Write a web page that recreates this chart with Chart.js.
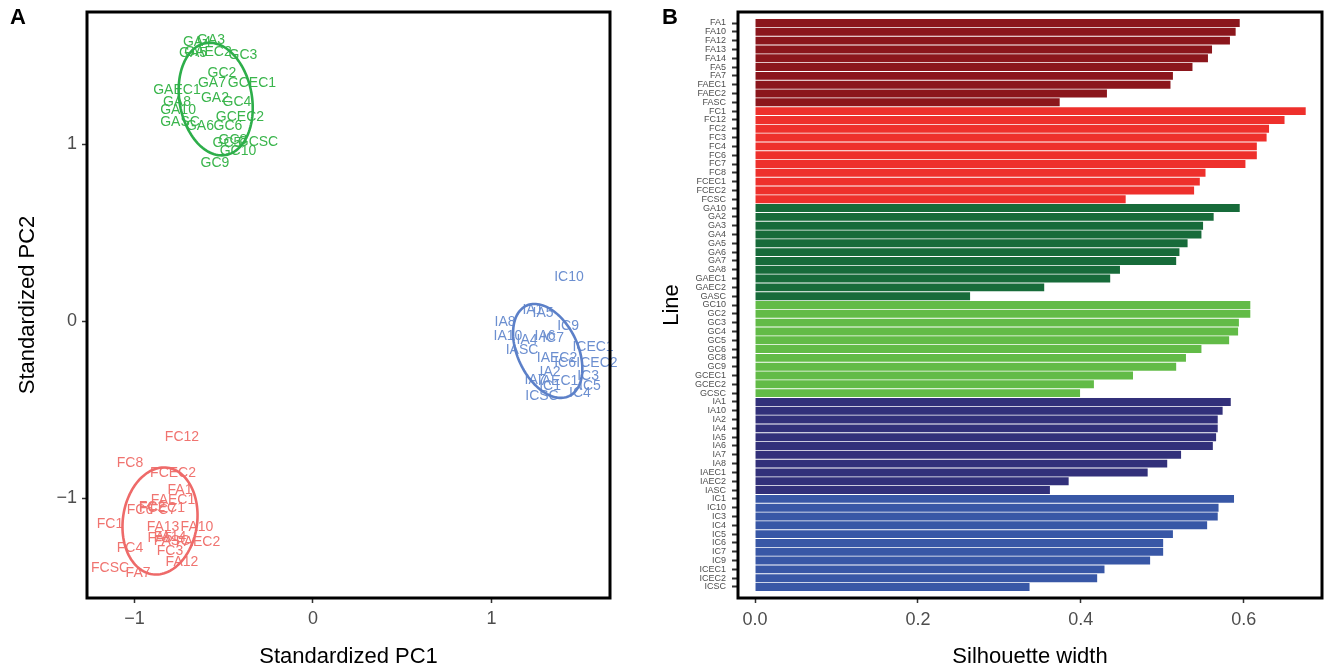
<!DOCTYPE html>
<html>
  <head>
    <title>PCA and silhouette widths</title>
    <script src="https://cdn.jsdelivr.net/npm/chart.js@4.4.1/dist/chart.umd.min.js"></script>
    <style>
      body { margin: 0; background: #fff; }
      .panel { position: absolute; top: 0; }
    </style>
  </head>

  <body>
    <div class="panel" style="left: 0px"><canvas id="pca" width="640" height="671"></canvas></div>
    <div class="panel" style="left: 640px"><canvas id="sil" width="685" height="671"></canvas></div>
    <script>
      // panel A: label positions on the standardized PCs
      const greenNames = ['GA3', 'GA4', 'GA5', 'GAEC2', 'GC3', 'GC2', 'GA7', 'GCEC1', 'GAEC1', 'GA2', 'GC4', 'GA8', 'GA10', 'GCEC2', 'GASC', 'GA6', 'GC6', 'GC8', 'GC5', 'GCSC', 'GC10', 'GC9'];
      const greenPC1 = [-0.571, -0.650, -0.672, -0.588, -0.392, -0.510, -0.566, -0.342, -0.762, -0.549, -0.426, -0.762, -0.756, -0.409, -0.745, -0.633, -0.476, -0.448, -0.482, -0.308, -0.420, -0.549];
      const greenPC2 = [1.588, 1.576, 1.514, 1.520, 1.503, 1.401, 1.345, 1.345, 1.305, 1.260, 1.237, 1.237, 1.192, 1.153, 1.124, 1.102, 1.102, 1.023, 1.006, 1.011, 0.960, 0.893];

      const blueNames = ['IC10', 'IA1', 'IA5', 'IA8', 'IC9', 'IA10', 'IA6', 'IC7', 'IA4', 'IASC', 'ICEC1', 'IAEC2', 'IC6', 'ICEC2', 'IA2', 'IC3', 'IA7', 'IAEC1', 'IC1', 'IC5', 'IC4', 'ICSC'];
      const bluePC1 = [1.434, 1.232, 1.289, 1.076, 1.429, 1.092, 1.300, 1.345, 1.199, 1.171, 1.569, 1.367, 1.412, 1.591, 1.328, 1.541, 1.244, 1.373, 1.328, 1.552, 1.496, 1.283];
      const bluePC2 = [0.249, 0.062, 0.045, -0.006, -0.028, -0.085, -0.085, -0.096, -0.107, -0.164, -0.147, -0.209, -0.237, -0.237, -0.288, -0.311, -0.333, -0.339, -0.367, -0.367, -0.407, -0.424];

      const redNames = ['FC12', 'FC8', 'FCEC2', 'FA1', 'FAEC1', 'FC2', 'FC6', 'FCEC1', 'FC7', 'FC1', 'FA13', 'FA10', 'FA14', 'FA5', 'FASC', 'FAEC2', 'FC4', 'FC3', 'FA12', 'FCSC', 'FA7'];
      const redPC1 = [-0.734, -1.025, -0.784, -0.745, -0.784, -0.902, -0.969, -0.846, -0.840, -1.137, -0.840, -0.650, -0.801, -0.857, -0.790, -0.644, -1.025, -0.801, -0.734, -1.137, -0.980];
      const redPC2 = [-0.655, -0.802, -0.859, -0.955, -1.011, -1.051, -1.068, -1.056, -1.068, -1.147, -1.164, -1.164, -1.220, -1.226, -1.243, -1.249, -1.282, -1.299, -1.362, -1.395, -1.424];

      // cluster ellipses (green, blue, red): centre, semi axes, tilt of major axis in degrees
      const ellipseCx = [-0.545, 1.315, -0.857];
      const ellipseCy = [1.254, -0.169, -1.130];
      const ellipseA = [0.321, 0.282, 0.304];
      const ellipseB = [0.203, 0.169, 0.208];
      const ellipseTilt = [100, 115, 82];

      const pcTicks = [-1, 0, 1];

      // panel B: silhouette width per line
      const faLines = ['FA1', 'FA10', 'FA12', 'FA13', 'FA14', 'FA5', 'FA7', 'FAEC1', 'FAEC2', 'FASC'];
      const faWidth = [0.595, 0.590, 0.583, 0.561, 0.556, 0.537, 0.513, 0.510, 0.432, 0.374];
      const fcLines = ['FC1', 'FC12', 'FC2', 'FC3', 'FC4', 'FC6', 'FC7', 'FC8', 'FCEC1', 'FCEC2', 'FCSC'];
      const fcWidth = [0.676, 0.650, 0.631, 0.628, 0.616, 0.616, 0.602, 0.553, 0.546, 0.539, 0.455];
      const gaLines = ['GA10', 'GA2', 'GA3', 'GA4', 'GA5', 'GA6', 'GA7', 'GA8', 'GAEC1', 'GAEC2', 'GASC'];
      const gaWidth = [0.595, 0.563, 0.550, 0.548, 0.531, 0.521, 0.517, 0.448, 0.436, 0.355, 0.264];
      const gcLines = ['GC10', 'GC2', 'GC3', 'GC4', 'GC5', 'GC6', 'GC8', 'GC9', 'GCEC1', 'GCEC2', 'GCSC'];
      const gcWidth = [0.608, 0.608, 0.594, 0.593, 0.582, 0.548, 0.529, 0.517, 0.464, 0.416, 0.399];
      const iaLines = ['IA1', 'IA10', 'IA2', 'IA4', 'IA5', 'IA6', 'IA7', 'IA8', 'IAEC1', 'IAEC2', 'IASC'];
      const iaWidth = [0.584, 0.574, 0.568, 0.568, 0.566, 0.562, 0.523, 0.506, 0.482, 0.385, 0.362];
      const icLines = ['IC1', 'IC10', 'IC3', 'IC4', 'IC5', 'IC6', 'IC7', 'IC9', 'ICEC1', 'ICEC2', 'ICSC'];
      const icWidth = [0.588, 0.569, 0.568, 0.555, 0.513, 0.501, 0.501, 0.485, 0.429, 0.420, 0.337];

      const silTicks = [0, 0.2, 0.4, 0.6];

      const FONT = '"Liberation Sans", Arial, Helvetica, sans-serif';
      const TICK_GREY = '#4D4D4D';

      const groupColors = {
        FA: '#8B161C', FC: '#EE302C', GA: '#176B3A',
        GC: '#62BB47', IA: '#32307A', IC: '#3857A6',
      };
      const ellipseColors = ['#2DAE4A', '#5C80C8', '#EE6A69'];

      function framePlugin(tag, tagX) {
        return {
          id: 'frame' + tag,
          afterDraw(chart) {
            const { ctx, chartArea: a } = chart;
            ctx.save();
            ctx.strokeStyle = '#000';
            ctx.lineWidth = 3;
            ctx.strokeRect(a.left, a.top, a.right - a.left, a.bottom - a.top);
            ctx.fillStyle = '#000';
            ctx.font = 'bold 22px ' + FONT;
            ctx.textBaseline = 'top';
            ctx.textAlign = 'left';
            ctx.fillText(tag, tagX, 7);
            ctx.restore();
          },
        };
      }

      const textLabels = {
        id: 'textLabels',
        afterDatasetsDraw(chart) {
          const ctx = chart.ctx;
          ctx.save();
          ctx.font = '14px ' + FONT;
          ctx.textAlign = 'center';
          ctx.textBaseline = 'middle';
          chart.data.datasets.forEach((ds, i) => {
            const meta = chart.getDatasetMeta(i);
            ctx.fillStyle = ds.textColor;
            meta.data.forEach((pt, j) => ctx.fillText(ds.names[j], pt.x, pt.y));
          });
          // ellipses
          const xs = chart.scales.x, ys = chart.scales.y;
          ctx.lineWidth = 2.6;
          ellipseCx.forEach((cx, k) => {
            const th = ellipseTilt[k] * Math.PI / 180;
            ctx.strokeStyle = ellipseColors[k];
            ctx.beginPath();
            for (let s = 0; s <= 120; s++) {
              const t = (s / 120) * 2 * Math.PI;
              const u = ellipseA[k] * Math.cos(t), v = ellipseB[k] * Math.sin(t);
              const dx = cx + u * Math.cos(th) - v * Math.sin(th);
              const dy = ellipseCy[k] + u * Math.sin(th) + v * Math.cos(th);
              const px = xs.getPixelForValue(dx), py = ys.getPixelForValue(dy);
              if (s === 0) ctx.moveTo(px, py); else ctx.lineTo(px, py);
            }
            ctx.closePath();
            ctx.stroke();
          });
          ctx.restore();
        },
      };

      const toPoints = (xs, ys) => xs.map((x, i) => ({ x: x, y: ys[i] }));
      const minus = (v) => (v < 0 ? '\u2212' + Math.abs(v) : '' + v);
      const noPad = (s) => { s.paddingTop = 0; s.paddingBottom = 0; s.paddingLeft = 0; s.paddingRight = 0; };

      const gridOpts = (len, w) => ({
        drawOnChartArea: false, drawTicks: true, offset: false,
        tickLength: len, tickColor: '#333', tickWidth: w,
      });

      new Chart(document.getElementById('pca'), {
        type: 'scatter',
        data: {
          datasets: [
            { names: greenNames, textColor: '#3AB54C', data: toPoints(greenPC1, greenPC2), pointRadius: 0 },
            { names: blueNames, textColor: '#6C8FD0', data: toPoints(bluePC1, bluePC2), pointRadius: 0 },
            { names: redNames, textColor: '#F07470', data: toPoints(redPC1, redPC2), pointRadius: 0 },
          ],
        },
        options: {
          responsive: false,
          animation: false,
          layout: { padding: { top: 12, right: 30, left: 0, bottom: 0 } },
          plugins: { legend: { display: false }, tooltip: { enabled: false } },
          scales: {
            x: {
              type: 'linear',
              min: -1.266,
              max: 1.664,
              grid: gridOpts(5, 1.5),
              border: { display: false },
              afterBuildTicks: (s) => { s.ticks = pcTicks.map((v) => ({ value: v })); },
              afterFit: (s) => { s.height = 73; noPad(s); },
              ticks: { color: TICK_GREY, font: { family: FONT, size: 18 }, padding: 5, callback: minus },
              title: { display: true, text: 'Standardized PC1', color: '#000', font: { family: FONT, size: 22 }, padding: { top: 0, bottom: 1 } },
            },
            y: {
              type: 'linear',
              min: -1.565,
              max: 1.746,
              grid: gridOpts(5, 1.5),
              border: { display: false },
              afterBuildTicks: (s) => { s.ticks = pcTicks.map((v) => ({ value: v })); },
              afterFit: (s) => { s.width = 87; noPad(s); },
              ticks: { color: TICK_GREY, font: { family: FONT, size: 18 }, padding: 5, callback: minus },
              title: { display: true, text: 'Standardized PC2', color: '#000', font: { family: FONT, size: 22 }, padding: { top: 15, bottom: 0 } },
            },
          },
        },
        plugins: [textLabels, framePlugin('A', 10)],
      });

      const allLines = [].concat(faLines, fcLines, gaLines, gcLines, iaLines, icLines);
      const allWidths = [].concat(faWidth, fcWidth, gaWidth, gcWidth, iaWidth, icWidth);
      const barColors = allLines.map((n) => groupColors[n.slice(0, 2)]);

      new Chart(document.getElementById('sil'), {
        type: 'bar',
        data: {
          datasets: [
            {
              data: allWidths.map((w, i) => ({ x: w, y: i })),
              backgroundColor: barColors,
              borderWidth: 0,
              categoryPercentage: 0.9,
              barPercentage: 1.0,
            },
          ],
        },
        options: {
          indexAxis: 'y',
          responsive: false,
          animation: false,
          layout: { padding: { top: 12, right: 3, left: 0, bottom: 0 } },
          plugins: { legend: { display: false }, tooltip: { enabled: false } },
          scales: {
            x: {
              type: 'linear',
              min: -0.0209,
              max: 0.696,
              grid: gridOpts(5, 1.5),
              border: { display: false },
              afterBuildTicks: (s) => { s.ticks = silTicks.map((v) => ({ value: v })); },
              afterFit: (s) => { s.height = 73; noPad(s); },
              ticks: { color: TICK_GREY, font: { family: FONT, size: 18 }, padding: 6, callback: (v) => v.toFixed(1) },
              title: { display: true, text: 'Silhouette width', color: '#000', font: { family: FONT, size: 22 }, padding: { top: 0, bottom: 1 } },
            },
            y: {
              type: 'linear',
              reverse: true,
              offset: false,
              min: -1.25,
              max: 65.25,
              grid: gridOpts(6, 2),
              border: { display: false },
              afterBuildTicks: (s) => { s.ticks = allLines.map((n, i) => ({ value: i })); },
              afterFit: (s) => { s.width = 98; noPad(s); },
              ticks: { autoSkip: false, color: TICK_GREY, font: { family: FONT, size: 9 }, padding: 6, callback: (v) => allLines[v] },
              title: { display: true, text: 'Line', color: '#000', font: { family: FONT, size: 22 }, padding: { top: 19, bottom: 0 } },
            },
          },
        },
        plugins: [framePlugin('B', 22)],
      });
    </script>
  </body>
</html>
